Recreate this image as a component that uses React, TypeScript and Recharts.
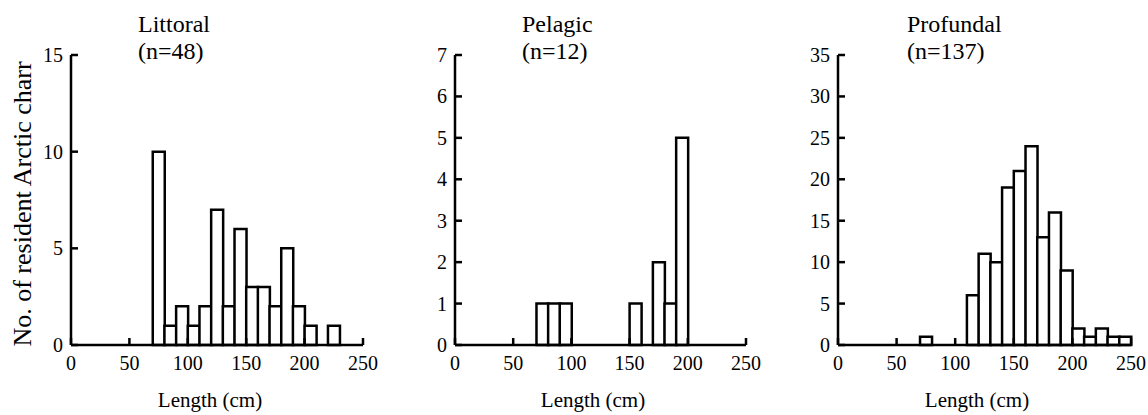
import React from 'react';
import { BarChart, Bar, XAxis, YAxis } from 'recharts';

// 10 cm length classes, centre of each class
const binMids = [5, 15, 25, 35, 45, 55, 65, 75, 85, 95, 105, 115, 125, 135, 145, 155, 165, 175, 185, 195, 205, 215, 225, 235, 245];

const littoralCounts = [0, 0, 0, 0, 0, 0, 0, 10, 1, 2, 1, 2, 7, 2, 6, 3, 3, 2, 5, 2, 1, 0, 1, 0, 0];
const pelagicCounts = [0, 0, 0, 0, 0, 0, 0, 1, 1, 1, 0, 0, 0, 0, 0, 1, 0, 2, 1, 5, 0, 0, 0, 0, 0];
const profundalCounts = [0, 0, 0, 0, 0, 0, 0, 1, 0, 0, 0, 6, 11, 10, 19, 21, 24, 13, 16, 9, 2, 1, 2, 1, 1];

const lengthTicks = [0, 50, 100, 150, 200, 250];
const littoralTicks = [0, 5, 10, 15];
const pelagicTicks = [0, 1, 2, 3, 4, 5, 6, 7];
const profundalTicks = [0, 5, 10, 15, 20, 25, 30, 35];

const FONT = '"Liberation Serif", "Times New Roman", serif';
const lineStyle = { stroke: '#000', strokeWidth: 2.5 };
const tickText = { fontFamily: FONT, fontSize: 20, lineHeight: '20px', color: '#000', whiteSpace: 'nowrap' as const };

// tick labels as html inside the svg (keeps the serif face)
const XTick = ({ x, y, payload }: any) => (
  <foreignObject x={x - 30} y={y - 2} width={60} height={24}>
    <div style={{ ...tickText, textAlign: 'center' }}>{payload.value}</div>
  </foreignObject>
);

const YTick = ({ x, y, payload }: any) => (
  <foreignObject x={x - 50} y={y - 12} width={50} height={24}>
    <div style={{ ...tickText, lineHeight: '24px', textAlign: 'right' }}>{payload.value}</div>
  </foreignObject>
);

type PanelProps = {
  counts: number[];
  yTicks: number[];
  left: number;
  width: number;
  marginLeft: number;
  marginRight: number;
};

const Panel = ({ counts, yTicks, left, width, marginLeft, marginRight }: PanelProps) => {
  const data = binMids.map((m, i) => ({ mid: m, count: counts[i] }));
  return (
    <div style={{ position: 'absolute', left, top: 0 }}>
      <BarChart
        width={width}
        height={415}
        data={data}
        margin={{ top: 55, right: marginRight, bottom: 40, left: marginLeft }}
        barCategoryGap={0}
        barGap={0}
      >
        <XAxis
          dataKey="mid"
          type="number"
          domain={[0, 250]}
          ticks={lengthTicks}
          interval={0}
          height={30}
          axisLine={lineStyle}
          tickLine={lineStyle}
          tickSize={-7}
          tickMargin={17}
          tick={<XTick />}
        />
        <YAxis
          type="number"
          domain={[0, yTicks[yTicks.length - 1]]}
          ticks={yTicks}
          interval={0}
          width={40}
          axisLine={lineStyle}
          tickLine={lineStyle}
          tickSize={-7}
          tickMargin={15}
          tick={<YTick />}
        />
        <Bar dataKey="count" fill="#fff" stroke="#000" strokeWidth={2.5} isAnimationActive={false} />
      </BarChart>
    </div>
  );
};

const Title = ({ left, name, n }: { left: number; name: string; n: string }) => (
  <div style={{ position: 'absolute', left, top: 11, fontSize: 24, lineHeight: '27px', whiteSpace: 'nowrap' }}>
    {name}
    <br />
    {n}
  </div>
);

const XLabel = ({ center }: { center: number }) => (
  <div style={{ position: 'absolute', left: center - 80, top: 390, width: 160, textAlign: 'center', fontSize: 21, lineHeight: '21px' }}>
    Length (cm)
  </div>
);

export default function App() {
  return (
    <div style={{ position: 'relative', width: 1148, height: 415, background: '#fff', overflow: 'hidden', fontFamily: FONT, color: '#000' }}>
      <style>{'body{margin:0}'}</style>
      <Panel counts={littoralCounts} yTicks={littoralTicks} left={0} width={383} marginLeft={31} marginRight={20} />
      <Panel counts={pelagicCounts} yTicks={pelagicTicks} left={390} width={376} marginLeft={25} marginRight={20} />
      <Panel counts={profundalCounts} yTicks={profundalTicks} left={780} width={368} marginLeft={18} marginRight={17} />
      <Title left={138} name="Littoral" n="(n=48)" />
      <Title left={522} name="Pelagic" n="(n=12)" />
      <Title left={907} name="Profundal" n="(n=137)" />
      <XLabel center={210} />
      <XLabel center={593} />
      <XLabel center={977} />
      <div
        style={{
          position: 'absolute',
          left: 23 - 170,
          top: 204 - 13,
          width: 340,
          height: 26,
          textAlign: 'center',
          fontSize: 26,
          lineHeight: '26px',
          whiteSpace: 'nowrap',
          transform: 'rotate(-90deg)',
        }}
      >
        No. of resident Arctic charr
      </div>
    </div>
  );
}
